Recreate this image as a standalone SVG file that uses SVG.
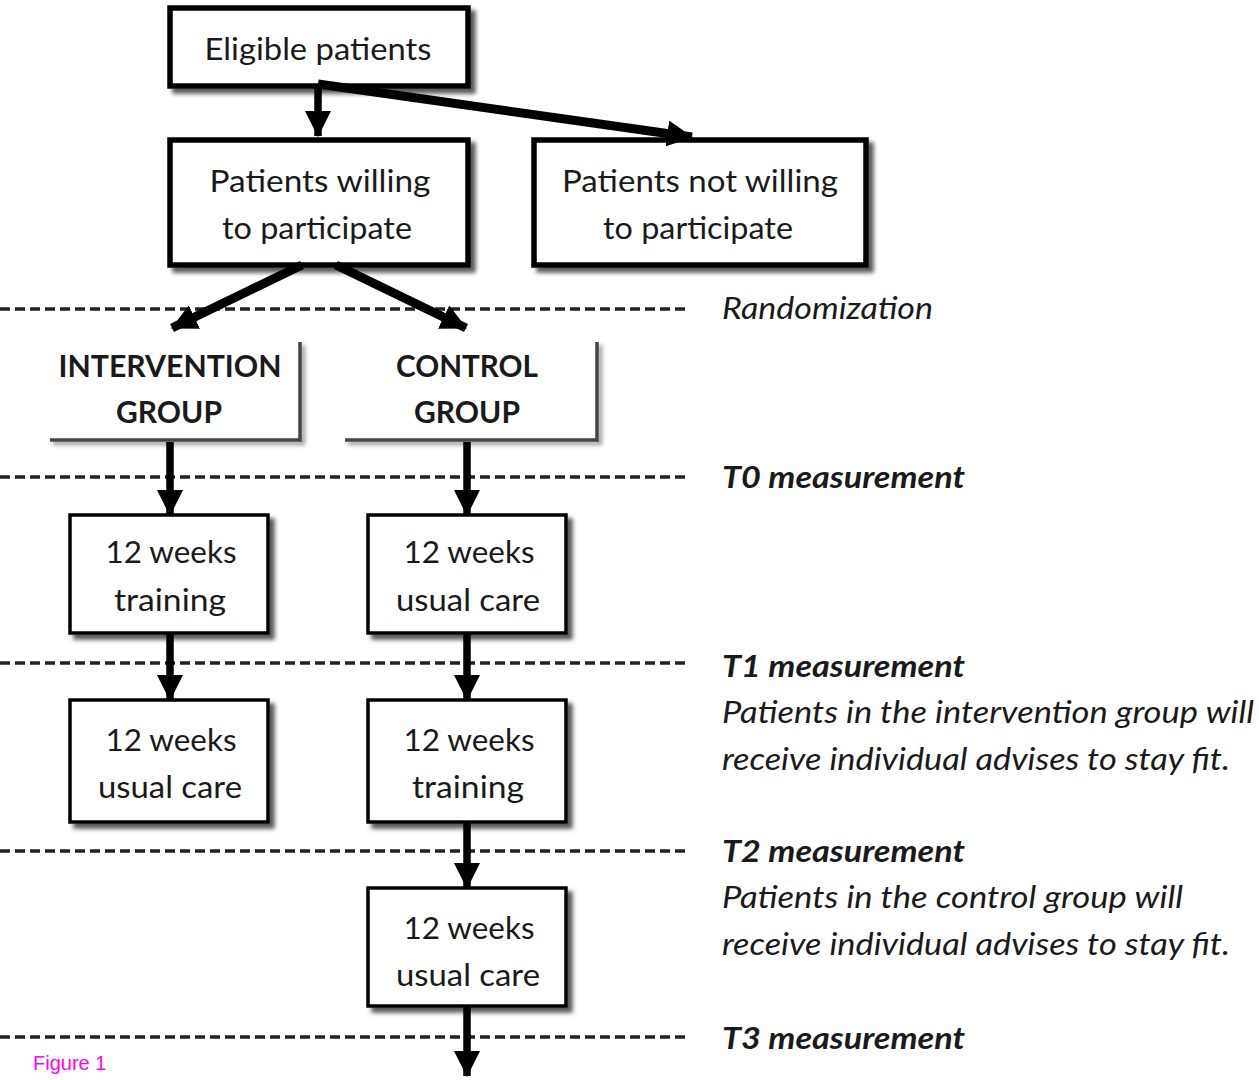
<svg xmlns="http://www.w3.org/2000/svg" width="1259" height="1080" viewBox="0 0 1259 1080">
<defs>
<marker id="ah" viewBox="0 0 24 24" refX="23" refY="12" markerWidth="26" markerHeight="26" markerUnits="userSpaceOnUse" orient="auto">
<path d="M0,0 L24,12 L0,24 z" fill="#000"/>
</marker>
<filter id="sh" x="-10%" y="-10%" width="130%" height="140%">
<feDropShadow dx="5" dy="5" stdDeviation="2" flood-color="#444" flood-opacity="0.9"/>
</filter>
<filter id="shg" x="-10%" y="-10%" width="130%" height="140%">
<feDropShadow dx="3" dy="3" stdDeviation="2" flood-color="#666" flood-opacity="0.8"/>
</filter>
</defs>
<style>
.box{fill:#fff;stroke:#000;}
.big{stroke-width:5.5;}
.small{stroke-width:3.5;}
.t{font-family:Lato,"Liberation Sans",sans-serif;font-size:31px;fill:#1a1a1a;text-anchor:middle;}
.b{font-weight:bold;}
.r{font-family:Lato,"Liberation Sans",sans-serif;font-size:30px;fill:#1a1a1a;font-style:italic;}
.dash{stroke:#222;stroke-width:3.5;stroke-dasharray:10 5;fill:none;}
.arr{stroke:#000;stroke-width:7.5;fill:none;marker-end:url(#ah);}
.arrd{stroke:#000;stroke-width:9;fill:none;marker-end:url(#ah);}
.brk{stroke:#444;stroke-width:3.5;fill:none;}
</style>
<rect width="1259" height="1080" fill="#fff"/>

<g id="guides">
<line class="dash" x1="0" y1="309" x2="686" y2="309"/>
<line class="dash" x1="0" y1="477" x2="686" y2="477"/>
<line class="dash" x1="0" y1="663" x2="686" y2="663"/>
<line class="dash" x1="0" y1="851" x2="686" y2="851"/>
<line class="dash" x1="0" y1="1037" x2="686" y2="1037"/>
</g>

<g id="eligible">
<rect class="box big" x="170" y="8" width="298" height="78" filter="url(#sh)"/>
<text class="t" x="318" y="60" textLength="227" lengthAdjust="spacingAndGlyphs">Eligible patients</text>
</g>
<g id="willing">
<rect class="box big" x="170" y="140" width="298" height="125" filter="url(#sh)"/>
<text class="t" x="320" y="192" textLength="221" lengthAdjust="spacingAndGlyphs">Patients willing</text>
<text class="t" x="317" y="239" textLength="190" lengthAdjust="spacingAndGlyphs">to participate</text>
</g>
<g id="notwilling">
<rect class="box big" x="534" y="140" width="332" height="125" filter="url(#sh)"/>
<text class="t" x="700" y="192" textLength="276" lengthAdjust="spacingAndGlyphs">Patients not willing</text>
<text class="t" x="698" y="239" textLength="190" lengthAdjust="spacingAndGlyphs">to participate</text>
</g>

<g id="intervention">
<path class="brk" d="M300,342 V440 H50" filter="url(#shg)"/>
<text class="t b" x="170" y="377" textLength="223" lengthAdjust="spacingAndGlyphs">INTERVENTION</text>
<text class="t b" x="169" y="423" textLength="106" lengthAdjust="spacingAndGlyphs">GROUP</text>
</g>
<g id="control">
<path class="brk" d="M597,342 V440 H345" filter="url(#shg)"/>
<text class="t b" x="467" y="377" textLength="142" lengthAdjust="spacingAndGlyphs">CONTROL</text>
<text class="t b" x="467" y="423" textLength="106" lengthAdjust="spacingAndGlyphs">GROUP</text>
</g>

<g id="int-training">
<rect class="box small" x="70" y="515" width="198" height="118" filter="url(#sh)"/>
<text class="t" x="171" y="563" textLength="131" lengthAdjust="spacingAndGlyphs">12 weeks</text>
<text class="t" x="170" y="611" textLength="112" lengthAdjust="spacingAndGlyphs">training</text>
</g>
<g id="ctl-usual1">
<rect class="box small" x="368" y="515" width="198" height="118" filter="url(#sh)"/>
<text class="t" x="469" y="563" textLength="131" lengthAdjust="spacingAndGlyphs">12 weeks</text>
<text class="t" x="468" y="611" textLength="144" lengthAdjust="spacingAndGlyphs">usual care</text>
</g>
<g id="int-usual">
<rect class="box small" x="70" y="700" width="198" height="122" filter="url(#sh)"/>
<text class="t" x="171" y="751" textLength="131" lengthAdjust="spacingAndGlyphs">12 weeks</text>
<text class="t" x="170" y="798" textLength="144" lengthAdjust="spacingAndGlyphs">usual care</text>
</g>
<g id="ctl-training">
<rect class="box small" x="368" y="700" width="198" height="122" filter="url(#sh)"/>
<text class="t" x="469" y="751" textLength="131" lengthAdjust="spacingAndGlyphs">12 weeks</text>
<text class="t" x="468" y="798" textLength="112" lengthAdjust="spacingAndGlyphs">training</text>
</g>
<g id="ctl-usual2">
<rect class="box small" x="368" y="888" width="198" height="118" filter="url(#sh)"/>
<text class="t" x="469" y="939" textLength="131" lengthAdjust="spacingAndGlyphs">12 weeks</text>
<text class="t" x="468" y="986" textLength="144" lengthAdjust="spacingAndGlyphs">usual care</text>
</g>

<g id="connectors">
<line class="arr" x1="318" y1="84" x2="318" y2="136"/>
<line class="arrd" x1="318" y1="84" x2="692" y2="137"/>
<line class="arrd" x1="302" y1="265" x2="172" y2="328"/>
<line class="arrd" x1="336" y1="265" x2="466" y2="328"/>
<line class="arr" x1="170" y1="442" x2="170" y2="515"/>
<line class="arr" x1="467" y1="442" x2="467" y2="515"/>
<line class="arr" x1="170" y1="633" x2="170" y2="700"/>
<line class="arr" x1="467" y1="633" x2="467" y2="700"/>
<line class="arr" x1="467" y1="822" x2="467" y2="888"/>
<line class="arr" x1="467" y1="1006" x2="467" y2="1076"/>
</g>

<g id="labels">
<text class="r" x="722" y="319" textLength="211" lengthAdjust="spacingAndGlyphs">Randomization</text>
<text class="r b" x="722" y="488" textLength="243" lengthAdjust="spacingAndGlyphs">T0 measurement</text>
<text class="r b" x="722" y="677" textLength="243" lengthAdjust="spacingAndGlyphs">T1 measurement</text>
<text class="r" x="722" y="723" textLength="532" lengthAdjust="spacingAndGlyphs">Patients in the intervention group will</text>
<text class="r" x="722" y="770" textLength="508" lengthAdjust="spacingAndGlyphs">receive individual advises to stay fit.</text>
<text class="r b" x="722" y="862" textLength="243" lengthAdjust="spacingAndGlyphs">T2 measurement</text>
<text class="r" x="722" y="908" textLength="461" lengthAdjust="spacingAndGlyphs">Patients in the control group will</text>
<text class="r" x="722" y="955" textLength="508" lengthAdjust="spacingAndGlyphs">receive individual advises to stay fit.</text>
<text class="r b" x="722" y="1049" textLength="243" lengthAdjust="spacingAndGlyphs">T3 measurement</text>
<text x="33" y="1070" font-family="'Liberation Sans',Arial,sans-serif" font-size="20" fill="#ff00ff">Figure 1</text>
</g>
</svg>
